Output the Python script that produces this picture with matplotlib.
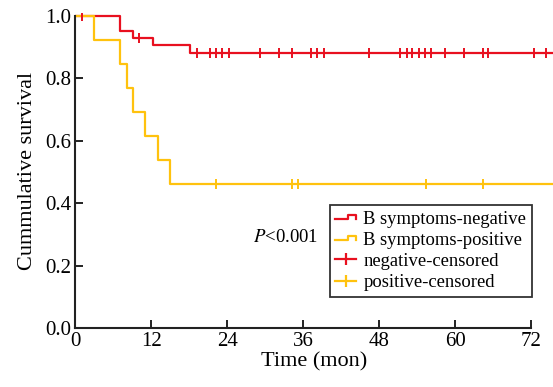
import matplotlib
matplotlib.use('Agg')
import matplotlib.pyplot as plt
import numpy as np
from matplotlib.lines import Line2D
from matplotlib.legend_handler import HandlerBase

# --- adatok ---
neg_times = [0, 7.1, 9.1, 12.2, 18.1, 76]
neg_surv = [1.0, 0.953, 0.930, 0.907, 0.883, 0.883]
neg_censor = [1.0, 10.0, 19.2, 21.2, 22.2, 23.2, 24.2, 29.2, 32.2, 34.2, 37.2,
              38.2, 39.2, 46.3, 51.3, 52.3, 53.2, 54.2, 55.2, 56.2, 58.3, 61.3,
              64.3, 65.2, 72.4, 74.4]

pos_times = [0, 3.0, 7.0, 8.1, 9.1, 11.05, 13.0, 15.0, 76]
pos_surv = [1.0, 0.923, 0.846, 0.769, 0.692, 0.615, 0.538, 0.4615, 0.4615]
pos_censor = [22.2, 34.2, 35.2, 55.4, 64.3]

x_ticks = [0, 12, 24, 36, 48, 60, 72]
y_ticks = [0.0, 0.2, 0.4, 0.6, 0.8, 1.0]

RED = '#E8101F'
GOLD = '#FFC20E'

plt.rcParams['font.family'] = ['Liberation Serif', 'DejaVu Serif']


def surv_at(times, surv, t):
    idx = np.searchsorted(times, t, side='right') - 1
    return np.array(surv)[idx]


class StepHandler(HandlerBase):
    # lépcsős jelmagyarázat-ikon
    def create_artists(self, legend, orig_handle, xdescent, ydescent,
                       width, height, fontsize, trans):
        x0 = -xdescent
        lo = -ydescent + height * 0.35
        hi = -ydescent + height * 0.65
        xs = [x0, x0 + width * 0.6, x0 + width * 0.6, x0 + width, x0 + width]
        ys = [lo, lo, hi, hi, lo]
        ln = Line2D(xs, ys, color=orig_handle.get_color(),
                    lw=orig_handle.get_linewidth(), transform=trans)
        return [ln]


fig = plt.figure(figsize=(5.53, 3.87), dpi=100)
ax = fig.add_axes([75.3 / 553, 59 / 387, (553 - 75.3) / 553, (329 - 14) / 387])

l1, = ax.step(neg_times, neg_surv, where='post', color=RED, lw=1.6)
l2, = ax.step(pos_times, pos_surv, where='post', color=GOLD, lw=1.6)
c1, = ax.plot(neg_censor, surv_at(neg_times, neg_surv, neg_censor), ls='none',
              marker='|', ms=7, mew=1.4, color=RED)
c2, = ax.plot(pos_censor, surv_at(pos_times, pos_surv, pos_censor), ls='none',
              marker='|', ms=7, mew=1.4, color=GOLD)

ax.set_xlim(0, (553 - 75.3) / 6.333)
ax.set_ylim(0, 1.01)
ax.set_xticks(x_ticks)
ax.set_yticks(y_ticks)
ax.set_yticklabels([f'{v:.1f}' for v in y_ticks])

for s in ['top', 'right']:
    ax.spines[s].set_visible(False)
ax.spines['bottom'].set_bounds(0, 72)
ax.spines['left'].set_bounds(0, 1.0)
for s in ['bottom', 'left']:
    ax.spines[s].set_linewidth(1.5)
    ax.spines[s].set_color('#222222')
ax.tick_params(direction='in', length=6, width=1.4, labelsize=15, color='#222222', pad=3)

ax.set_xlabel('Time (mon)', fontsize=16, labelpad=1)
ax.set_ylabel('Cummulative survival', fontsize=16, labelpad=6)

ax.text(28, 0.29, '$P$<0.001', fontsize=13.5, va='center', ha='left',
        math_fontfamily='stix')

neg_handle = Line2D([], [], color=RED, lw=1.6)
pos_handle = Line2D([], [], color=GOLD, lw=1.6)
cen1 = Line2D([], [], color=RED, lw=1.6, marker='|', ms=9, mew=1.6)
cen2 = Line2D([], [], color=GOLD, lw=1.6, marker='|', ms=9, mew=1.6)
leg = ax.legend([neg_handle, pos_handle, cen1, cen2],
                ['B symptoms-negative', 'B symptoms-positive',
                 'negative-censored', 'positive-censored'],
                handler_map={neg_handle: StepHandler(), pos_handle: StepHandler()},
                loc='upper left', bbox_to_anchor=(0.533, 0.39), borderaxespad=0,
                fontsize=13.4, frameon=True, fancybox=False, handlelength=1.1,
                handletextpad=0.4, labelspacing=0.22, borderpad=0.3)
leg.get_frame().set_edgecolor('black')
leg.get_frame().set_linewidth(1.3)

plt.savefig('out.png', dpi=100)
plt.close()
